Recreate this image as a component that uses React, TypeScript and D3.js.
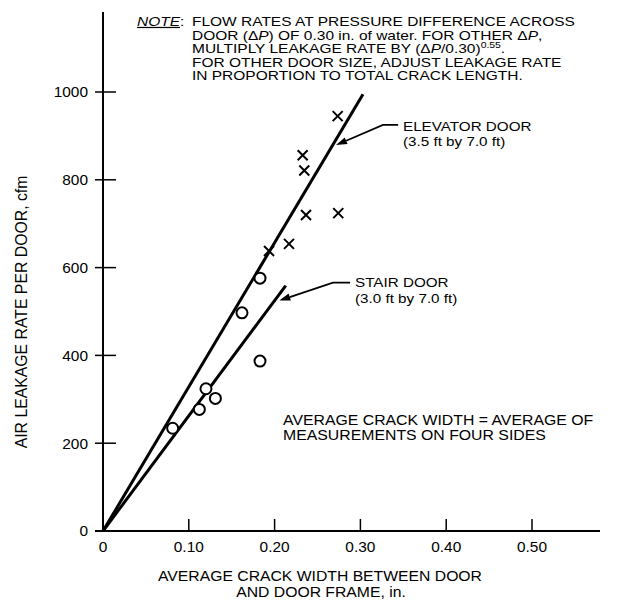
import React from "react";
import * as d3 from "d3";

// Measured door leakage: elevator doors (x markers) and stair doors (circles)
const elevatorCrack = [0.2735, 0.2327, 0.2346, 0.2366, 0.2742, 0.2168, 0.1935];
const elevatorFlow = [945, 856, 821, 720, 724, 654, 638];
const stairCrack = [0.183, 0.162, 0.183, 0.12, 0.131, 0.1123, 0.0812];
const stairFlow = [576, 497, 387, 324, 302, 277, 234];

// Fitted lines through the origin: [start, end] in data units
const elevatorFitX = [0, 0.303];
const elevatorFitY = [0, 995];
const stairFitX = [0, 0.213];
const stairFitY = [0, 559];

const xTicks = [0.1, 0.2, 0.3, 0.4, 0.5];
const xTickLabels = ["0.10", "0.20", "0.30", "0.40", "0.50"];
const yTicks = [0, 200, 400, 600, 800, 1000];

const W = 631;
const H = 602;
const FONT = "'Liberation Sans', Arial, Helvetica, sans-serif";

type TProps = {
  x: number;
  y: number;
  size: number;
  sx?: number;
  anchor?: "start" | "middle" | "end";
  children: React.ReactNode;
};

// Text with a slight horizontal stretch, as in the drafted lettering
function T({ x, y, size, sx = 1, anchor = "start", children }: TProps) {
  return (
    <text
      transform={`translate(${x},${y}) scale(${sx},1)`}
      fontSize={size}
      textAnchor={anchor}
    >
      {children}
    </text>
  );
}

export default function App() {
  const x = d3.scaleLinear().domain([0, 0.5]).range([103, 532]);
  const y = d3.scaleLinear().domain([0, 1000]).range([531, 92]);
  const line = d3
    .line<[number, number]>()
    .x((d) => x(d[0]))
    .y((d) => y(d[1]));

  const fit = (xs: number[], ys: number[]) =>
    line(xs.map((v, i) => [v, ys[i]] as [number, number])) || "";

  // leader with arrowhead: tip, knee, end (data units)
  const leader = (tip: [number, number], knee: [number, number], end: [number, number]) => {
    const [tx, ty] = [x(tip[0]), y(tip[1])];
    const [kx, ky] = [x(knee[0]), y(knee[1])];
    const [ex, ey] = [x(end[0]), y(end[1])];
    const ang = Math.atan2(ty - ky, tx - kx);
    const len = 11;
    const half = 3.6;
    const bx = tx - len * Math.cos(ang);
    const by = ty - len * Math.sin(ang);
    const p1 = [bx + half * Math.sin(ang), by - half * Math.cos(ang)];
    const p2 = [bx - half * Math.sin(ang), by + half * Math.cos(ang)];
    return (
      <g>
        <path
          d={`M${ex},${ey}L${kx},${ky}L${bx},${by}`}
          fill="none"
          stroke="#000"
          strokeWidth={1.8}
        />
        <path d={`M${tx},${ty}L${p1[0]},${p1[1]}L${p2[0]},${p2[1]}Z`} fill="#000" />
      </g>
    );
  };

  const tickFs = 15;
  const noteFs = 12.2;
  const noteSx = 1.27;
  const noteX = 192;

  return (
    <svg
      width={W}
      height={H}
      style={{ position: "absolute", left: 0, top: 0, display: "block", background: "#fff" }}
    >
      <g fontFamily={FONT} fill="#000">
        {/* axes */}
        <line x1={x(0)} x2={x(0)} y1={12} y2={y(0) + 1} stroke="#000" strokeWidth={2} />
        <line x1={95} x2={600} y1={y(0)} y2={y(0)} stroke="#000" strokeWidth={2} />
        {yTicks.map((t) => (
          <g key={"y" + t}>
            <line x1={95} x2={116} y1={y(t)} y2={y(t)} stroke="#000" strokeWidth={1.5} />
            <T x={88} y={y(t) + 5.4} size={tickFs} sx={1.03} anchor="end">
              {t}
            </T>
          </g>
        ))}
        {xTicks.map((t, i) => (
          <g key={"x" + t}>
            <line x1={x(t)} x2={x(t)} y1={y(0)} y2={y(0) - 12} stroke="#000" strokeWidth={1.5} />
            <T x={x(t)} y={552} size={tickFs} sx={1.03} anchor="middle">
              {xTickLabels[i]}
            </T>
          </g>
        ))}
        <T x={x(0)} y={552} size={tickFs} sx={1.03} anchor="middle">
          0
        </T>

        {/* axis titles */}
        <T x={320} y={581} size={15} sx={1.05} anchor="middle">
          AVERAGE CRACK WIDTH BETWEEN DOOR
        </T>
        <T x={321} y={597} size={15} sx={1.05} anchor="middle">
          AND DOOR FRAME, in.
        </T>
        <text
          transform="translate(26.5,312) rotate(-90)"
          textAnchor="middle"
          fontSize={15.8}
        >
          AIR LEAKAGE RATE PER DOOR, cfm
        </text>

        {/* fitted lines */}
        <path d={fit(elevatorFitX, elevatorFitY)} fill="none" stroke="#000" strokeWidth={3} />
        <path d={fit(stairFitX, stairFitY)} fill="none" stroke="#000" strokeWidth={3} />

        {/* elevator door data */}
        {elevatorCrack.map((c, i) => {
          const cx = x(c);
          const cy = y(elevatorFlow[i]);
          const s = 5;
          return (
            <path
              key={"e" + i}
              d={`M${cx - s},${cy - s}L${cx + s},${cy + s}M${cx - s},${cy + s}L${cx + s},${cy - s}`}
              stroke="#000"
              strokeWidth={2}
            />
          );
        })}
        {/* stair door data */}
        {stairCrack.map((c, i) => (
          <circle
            key={"s" + i}
            cx={x(c)}
            cy={y(stairFlow[i])}
            r={5.5}
            fill="#fff"
            stroke="#000"
            strokeWidth={2}
          />
        ))}

        {/* curve labels */}
        {leader([0.2716, 879], [0.3263, 925], [0.344, 925])}
        <T x={403} y={131} size={13.6} sx={1.12}>
          ELEVATOR DOOR
        </T>
        <T x={403} y={146} size={13.6} sx={1.12}>
          (3.5 ft by 7.0 ft)
        </T>
        {leader([0.2055, 525], [0.268, 566], [0.288, 566])}
        <T x={355} y={287} size={13.6} sx={1.12}>
          STAIR DOOR
        </T>
        <T x={355} y={303} size={13.6} sx={1.12}>
          (3.0 ft by 7.0 ft)
        </T>

        <T x={283} y={425} size={14.8} sx={1.07}>
          AVERAGE CRACK WIDTH = AVERAGE OF
        </T>
        <T x={283} y={440} size={14.8} sx={1.07}>
          MEASUREMENTS ON FOUR SIDES
        </T>

        {/* note */}
        <T x={137} y={26} size={noteFs} sx={noteSx}>
          <tspan fontStyle="italic" textDecoration="underline">NOTE</tspan>
          <tspan>:</tspan>
        </T>
        <T x={noteX} y={26} size={noteFs} sx={noteSx}>
          FLOW RATES AT PRESSURE DIFFERENCE ACROSS
        </T>
        <T x={noteX} y={39.5} size={noteFs} sx={noteSx}>
          <tspan>{"DOOR (\u0394"}</tspan>
          <tspan fontStyle="italic">P</tspan>
          <tspan>{") OF 0.30 in. of water. FOR OTHER \u0394"}</tspan>
          <tspan fontStyle="italic">P</tspan>
          <tspan>,</tspan>
        </T>
        <T x={noteX} y={53} size={noteFs} sx={noteSx}>
          <tspan>{"MULTIPLY LEAKAGE RATE BY (\u0394"}</tspan>
          <tspan fontStyle="italic">P</tspan>
          <tspan>/0.30)</tspan>
          <tspan fontSize={8.2} dy={-5}>0.55</tspan>
          <tspan dy={5}>.</tspan>
        </T>
        <T x={noteX} y={66.5} size={noteFs} sx={noteSx}>
          FOR OTHER DOOR SIZE, ADJUST LEAKAGE RATE
        </T>
        <T x={noteX} y={80} size={noteFs} sx={noteSx}>
          IN PROPORTION TO TOTAL CRACK LENGTH.
        </T>
      </g>
    </svg>
  );
}
